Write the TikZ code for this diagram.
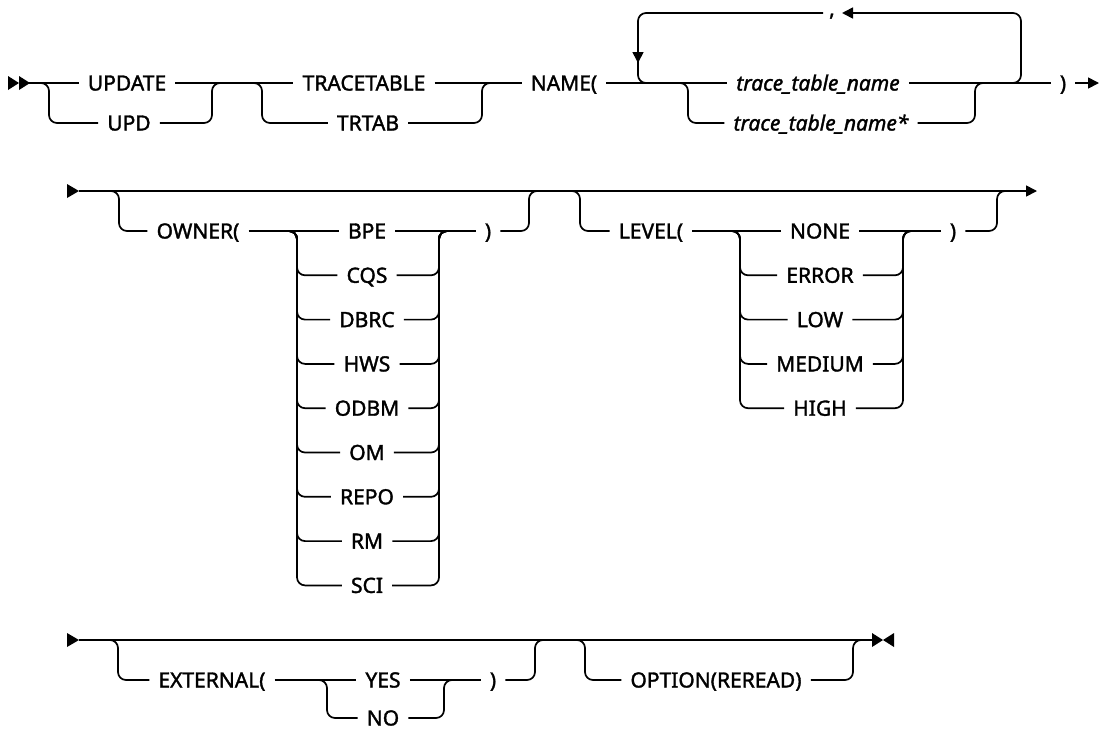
\documentclass[tikz,border=0pt]{standalone}
\usepackage{fontspec}
\setmainfont{Noto Sans}[FakeBold=1.6]
\usetikzlibrary{arrows.meta}

\begin{document}
\begin{tikzpicture}[x=1pt,y=-1pt,
  rail/.style={line width=1.7pt,rounded corners=8pt},
  tip/.style={-{Triangle[length=11pt,width=11pt]}},
  kw/.style={font=\fontsize{21}{25}\selectfont,inner xsep=9pt,inner ysep=0pt,
    text height=15pt,text depth=0pt},
  var/.style={kw,font=\fontsize{21}{25}\selectfont\itshape}]
  \useasboundingbox (0,0) rectangle (1099,732);
  \def\ya{83}  \def\yb{123}
  \def\yc{191} \def\yd{231}
  \def\ye{640} \def\yf{680}
  \def\dy{44.3}

  % row 1: UPDATE TRACETABLE NAME(...)
  \coordinate (s1) at (29,\ya);
  \coordinate (e1) at (1099,\ya);
  \fill (8,\ya-7) -- (19,\ya) -- (8,\ya+7) -- cycle;
  \fill (19,\ya-7) -- (30,\ya) -- (19,\ya+7) -- cycle;
  \node[kw] (update) at (127,\ya) {UPDATE};
  \node[kw] (upd) at (129,\yb) {UPD};
  \node[kw] (tracetable) at (364,\ya) {TRACETABLE};
  \node[kw] (trtab) at (368,\yb) {TRTAB};
  \node[kw] (name) at (564,\ya) {NAME(};
  \node[var] (tname) at (818,\ya) {trace\_table\_name};
  \node[var] (tnamex) at (821,\yb) {trace\_table\_name*};
  \node[kw] (rp1) at (1063,\ya) {)};
  \node[font=\fontsize{21}{25}\selectfont,inner sep=0pt,anchor=base] (comma) at (832,16) {,};
  \coordinate (b1) at (49,\ya);  \coordinate (j1) at (212,\ya);
  \coordinate (b2) at (262,\ya); \coordinate (j2) at (482,\ya);
  \coordinate (b3) at (688,\ya); \coordinate (j3) at (975,\ya);
  \draw[rail] (s1) -- (update) -- (tracetable) -- (name) -- (tname) -- (rp1);
  \draw[rail,tip] (rp1) -- (e1);
  \draw[rail] ([xshift=-9pt]b1) -- (b1) -- (b1 |- upd) -- (upd.west);
  \draw[rail] (upd.east) -- (j1 |- upd) -- (j1) -- ([xshift=9pt]j1);
  \draw[rail] ([xshift=-9pt]b2) -- (b2) -- (b2 |- trtab) -- (trtab.west);
  \draw[rail] (trtab.east) -- (j2 |- trtab) -- (j2) -- ([xshift=9pt]j2);
  \draw[rail] ([xshift=-9pt]b3) -- (b3) -- (b3 |- tnamex) -- (tnamex.west);
  \draw[rail] (tnamex.east) -- (j3 |- tnamex) -- (j3) -- ([xshift=9pt]j3);
  % repeat loop
  \coordinate (lpl) at (638,13); \coordinate (lpr) at (1021,13);
  \coordinate (ctip) at (842,13); \coordinate (cend) at (823,13);
  \draw[rail,tip] ([xshift=-10pt]lpr |- tname) -- (lpr |- tname) -- (lpr) -- (ctip);
  \draw[rail,tip] (cend) -- (lpl) -- ([yshift=-50pt]lpl);
  \draw[rail] ([yshift=-42pt]lpl) -- (lpl |- tname) -- ([xshift=10pt]lpl |- tname);

  % row 2: OWNER( ... ) LEVEL( ... )
  \coordinate (s2) at (79,\yc);
  \coordinate (e2) at (1037,\yc);
  \fill (67,\yc-7) -- (79,\yc) -- (67,\yc+7) -- cycle;
  \draw[rail,tip] (s2) -- (e2);
  \coordinate (ob) at (119,\yc); \coordinate (oj) at (529,\yc);
  \coordinate (ol) at (297,\yd); \coordinate (or) at (439,\yd);
  \node[kw] (owner) at (198,\yd) {OWNER(};
  \node[kw] (rpo) at (488,\yd) {)};
  \foreach \t [count=\i from 0] in {BPE,CQS,DBRC,HWS,ODBM,OM,REPO,RM,SCI}
    \node[kw] (o\i) at (367,\yd+\i*\dy) {\t};
  \draw[rail] ([xshift=-9pt]ob) -- (ob) -- (ob |- owner) -- (owner.west);
  \draw[rail] (owner) -- (o0) -- (rpo);
  \draw[rail] (rpo.east) -- (oj |- rpo) -- (oj) -- ([xshift=9pt]oj);
  \foreach \i in {1,...,8} {
    \draw[rail] ([xshift=-9pt]ol) -- (ol) -- (ol |- o\i) -- (o\i.west);
    \draw[rail] (o\i.east) -- (or |- o\i) -- (or) -- ([xshift=9pt]or);
  }
  \coordinate (lb) at (580,\yc); \coordinate (lj) at (997,\yc);
  \coordinate (ll) at (740,\yd); \coordinate (lr) at (903,\yd);
  \node[kw] (level) at (651,\yd) {LEVEL(};
  \node[kw] (rpl) at (953,\yd) {)};
  \foreach \t [count=\i from 0] in {NONE,ERROR,LOW,MEDIUM,HIGH}
    \node[kw] (l\i) at (820,\yd+\i*\dy) {\t};
  \draw[rail] ([xshift=-9pt]lb) -- (lb) -- (lb |- level) -- (level.west);
  \draw[rail] (level) -- (l0) -- (rpl);
  \draw[rail] (rpl.east) -- (lj |- rpl) -- (lj) -- ([xshift=9pt]lj);
  \foreach \i in {1,...,4} {
    \draw[rail] ([xshift=-9pt]ll) -- (ll) -- (ll |- l\i) -- (l\i.west);
    \draw[rail] (l\i.east) -- (lr |- l\i) -- (lr) -- ([xshift=9pt]lr);
  }

  % row 3: EXTERNAL( ... ) OPTION(REREAD)
  \coordinate (s3) at (79,\ye);
  \coordinate (e3) at (872,\ye);
  \fill (67,\ye-7) -- (79,\ye) -- (67,\ye+7) -- cycle;
  \draw[rail] (s3) -- (e3);
  \fill (872,\ye-7) -- (883,\ye) -- (872,\ye+7) -- cycle;
  \fill (894,\ye-7) -- (883,\ye) -- (894,\ye+7) -- cycle;
  \coordinate (eb) at (118,\ye); \coordinate (ej) at (535,\ye);
  \coordinate (el) at (327,\yf); \coordinate (er) at (444,\yf);
  \node[kw] (external) at (212,\yf) {EXTERNAL(};
  \node[kw] (yes) at (383,\yf) {YES};
  \node[kw] (no) at (383,718) {NO};
  \node[kw] (rpe) at (493,\yf) {)};
  \draw[rail] ([xshift=-9pt]eb) -- (eb) -- (eb |- external) -- (external.west);
  \draw[rail] (external) -- (yes) -- (rpe);
  \draw[rail] (rpe.east) -- (ej |- rpe) -- (ej) -- ([xshift=9pt]ej);
  \draw[rail] ([xshift=-9pt]el) -- (el) -- (el |- no) -- (no.west);
  \draw[rail] (no.east) -- (er |- no) -- (er) -- ([xshift=9pt]er);
  \coordinate (pb) at (585,\ye); \coordinate (pj) at (853,\ye);
  \node[kw] (option) at (716,\yf) {OPTION(REREAD)};
  \draw[rail] ([xshift=-9pt]pb) -- (pb) -- (pb |- option) -- (option.west);
  \draw[rail] (option.east) -- (pj |- option) -- (pj) -- ([xshift=9pt]pj);
\end{tikzpicture}
\end{document}
